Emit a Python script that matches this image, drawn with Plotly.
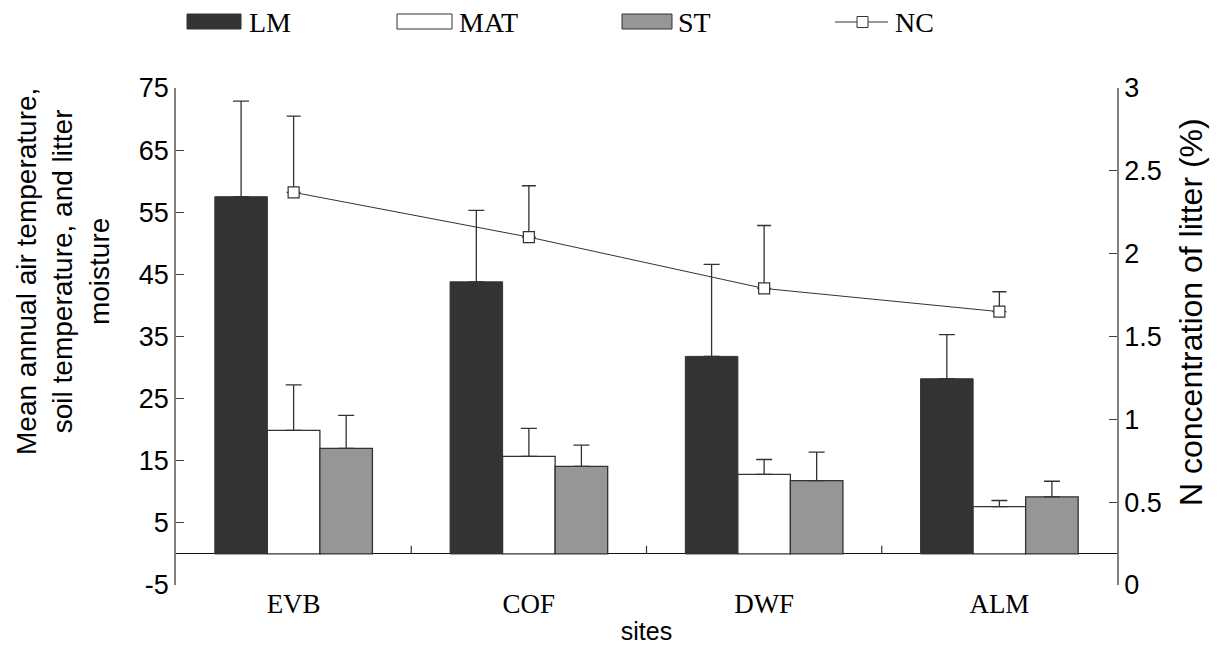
import plotly.graph_objects as go

sites = ["EVB", "COF", "DWF", "ALM"]
LM = [57.5, 43.8, 31.8, 28.2]
LM_err = [15.4, 11.5, 14.8, 7.1]
MAT = [19.9, 15.7, 12.8, 7.6]
MAT_err = [7.3, 4.5, 2.4, 1.0]
ST = [17.0, 14.1, 11.8, 9.2]
ST_err = [5.3, 3.4, 4.6, 2.5]
NC = [2.37, 2.10, 1.79, 1.65]
NC_err = [0.46, 0.31, 0.38, 0.12]
left_ticks = [-5, 5, 15, 25, 35, 45, 55, 65, 75]
right_ticks = [0, 0.5, 1, 1.5, 2, 2.5, 3]

SERIF = "Liberation Serif, Times New Roman, serif"
SANS = "Liberation Sans, Arial, sans-serif"
EDGE = "#333333"

def errs(plus, color=EDGE, w=8):
    return dict(type="data", symmetric=False, array=plus, arrayminus=[0]*len(plus),
                color=color, thickness=1.3, width=w)

fig = go.Figure()
fig.add_trace(go.Bar(name="LM", x=sites, y=LM, error_y=errs(LM_err),
                     marker=dict(color="#333333", line=dict(color=EDGE, width=1))))
fig.add_trace(go.Bar(name="MAT", x=sites, y=MAT, error_y=errs(MAT_err),
                     marker=dict(color="#ffffff", line=dict(color=EDGE, width=1.3))))
fig.add_trace(go.Bar(name="ST", x=sites, y=ST, error_y=errs(ST_err),
                     marker=dict(color="#969696", line=dict(color=EDGE, width=1.3))))
fig.add_trace(go.Scatter(name="NC", x=sites, y=NC, yaxis="y2", mode="lines+markers",
                         line=dict(color=EDGE, width=1),
                         marker=dict(symbol="square", size=11, color="white",
                                     line=dict(color=EDGE, width=1.2)),
                         error_y=errs(NC_err, w=7)))

shapes = []
for i in range(len(sites) - 1):
    shapes.append(dict(type="line", xref="x", yref="y", x0=i + 0.5, x1=i + 0.5,
                       y0=0, y1=1.3, line=dict(color=EDGE, width=1.2)))

# helpers: screen pixel -> paper fraction of the plot area (176..1117, 88..585)
W, H, L, T = 941.0, 497.0, 176.0, 88.0
def px(xp):
    return (xp - L) / W
def py(yp):
    return 1 + (T - yp) / H

legend_items = [
    ("LM", "#333333", 187, 241, 247),
    ("MAT", "#ffffff", 397, 452, 457),
    ("ST", "#969696", 622, 672, 676),
]
annotations = []
for name, col, a, b, tx in legend_items:
    shapes.append(dict(type="rect", xref="paper", yref="paper",
                       x0=px(a), x1=px(b), y0=py(29), y1=py(14),
                       fillcolor=col, line=dict(color=EDGE, width=1)))
    annotations.append(dict(text=name, xref="paper", yref="paper", x=px(tx), y=py(22),
                            xanchor="left", yanchor="middle", showarrow=False,
                            font=dict(family=SERIF, size=28, color="black")))
shapes.append(dict(type="line", xref="paper", yref="paper", x0=px(835), x1=px(888),
                   y0=py(22), y1=py(22), line=dict(color=EDGE, width=1)))
shapes.append(dict(type="rect", xref="paper", yref="paper", x0=px(857), x1=px(868),
                   y0=py(27.5), y1=py(16.5), fillcolor="white", line=dict(color=EDGE, width=1)))
annotations.append(dict(text="NC", xref="paper", yref="paper", x=px(893), y=py(22),
                        xanchor="left", yanchor="middle", showarrow=False,
                        font=dict(family=SERIF, size=28, color="black")))

# axis titles as rotated annotations
annotations.append(dict(text="Mean annual air temperature,<br>soil temperature, and litter<br>moisture",
                        xref="paper", yref="paper", x=px(63), y=py(272), textangle=-90,
                        xanchor="center", yanchor="middle", showarrow=False,
                        font=dict(family=SANS, size=28, color="black")))
annotations.append(dict(text="N concentration of litter (%)",
                        xref="paper", yref="paper", x=px(1191), y=py(312), textangle=-90,
                        xanchor="center", yanchor="middle", showarrow=False,
                        font=dict(family=SANS, size=32, color="black")))

fig.update_layout(
    width=1219, height=640,
    margin=dict(l=168, r=110, t=80, b=63, autoexpand=False),
    paper_bgcolor="white", plot_bgcolor="white",
    barmode="group", bargap=0.33, bargroupgap=0,
    showlegend=False,
    shapes=shapes, annotations=annotations,
    xaxis=dict(showline=False, ticks="", showgrid=False, zeroline=False, automargin=False,
               tickfont=dict(family=SERIF, size=27, color="black"),
               title=dict(text="sites", font=dict(family=SANS, size=25, color="black"), standoff=4)),
    yaxis=dict(range=[-5, 75], tickvals=left_ticks, ticktext=[str(v) for v in left_ticks],
               showgrid=False, showline=True, linecolor="#808080", linewidth=1.5,
               ticks="inside", ticklen=8, tickcolor="#404040", tickwidth=1.2, automargin=False,
               zeroline=True, zerolinecolor="#111111", zerolinewidth=1.3,
               tickfont=dict(family=SANS, size=27, color="black")),
    yaxis2=dict(range=[0, 3], tickvals=right_ticks, ticktext=[f"{v:g}" for v in right_ticks],
                overlaying="y", side="right", showgrid=False, automargin=False,
                showline=True, linecolor="#808080", linewidth=1.5,
                ticks="inside", ticklen=8, tickcolor="#404040", tickwidth=1.2,
                zeroline=False,
                tickfont=dict(family=SANS, size=27, color="black")),
)

fig.write_html("out.html")
